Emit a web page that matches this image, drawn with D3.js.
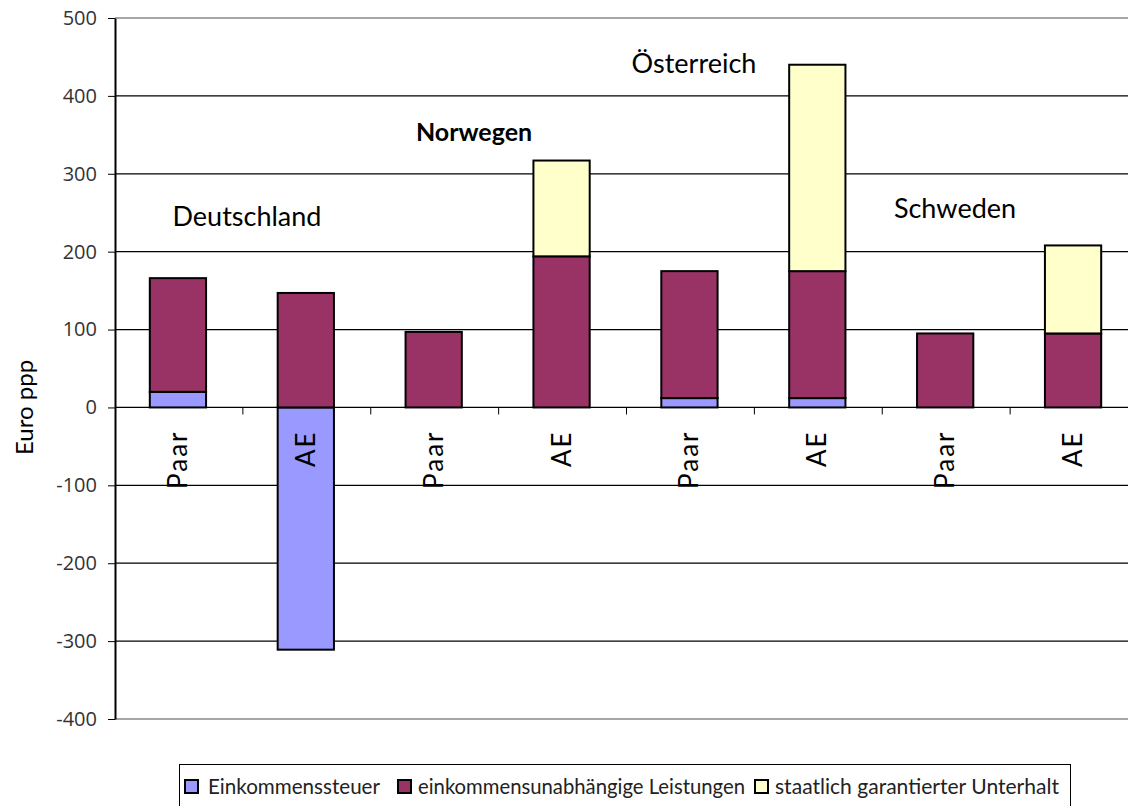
<!DOCTYPE html>
<html>
<head>
<meta charset="utf-8">
<script src="https://d3js.org/d3.v7.min.js"></script>
<style>
  body { margin: 0; background: #fff; }
  svg { font-family: Lato, "Open Sans", sans-serif; }
</style>
</head>
<body>
<div class="wrapper"></div>
<script>
// categories (country / household type)
var countries = ["Deutschland", "Norwegen", "Österreich", "Schweden"];
var types = ["Paar", "AE", "Paar", "AE", "Paar", "AE", "Paar", "AE"];
var seriesNames = ["Einkommenssteuer", "einkommensunabhängige Leistungen", "staatlich garantierter Unterhalt"];
// values in Euro ppp, one per bar
var steuer      = [20, -311, 0, 0, 12, 12, 0, 0];
var leistungen  = [146, 147, 97, 194, 163, 163, 95, 95];
var unterhalt   = [0, 0, 0, 123, 0, 265, 0, 113];
var yTicks = [-400, -300, -200, -100, 0, 100, 200, 300, 400, 500];

var colors = ["#9999ff", "#993366", "#ffffcc"];

var W = 1128, H = 806;
var margin = {top: 18, left: 115, bottom: 87};
var plotRight = 1138;

var svg = d3.select(".wrapper").append("svg")
  .attr("width", W).attr("height", H);

var y = d3.scaleLinear().domain([-400, 500]).range([H - margin.bottom, margin.top]);
var x = d3.scaleBand().domain(d3.range(types.length)).range([margin.left, plotRight]).paddingInner(0.56).paddingOuter(0.28);

// gridlines
svg.append("g").selectAll("line").data(yTicks).enter().append("line")
  .attr("x1", margin.left).attr("x2", W)
  .attr("y1", function(d){ return y(d); }).attr("y2", function(d){ return y(d); })
  .style("stroke", function(d){ return (d == 500 || d == -400) ? "#888" : "#000"; })
  .style("stroke-width", 1.3);

// y axis
var yAxis = svg.append("g").attr("transform", "translate(" + margin.left + ",0)")
  .call(d3.axisLeft(y).tickValues(yTicks).tickFormat(function(d){ return String(d); })
    .tickSize(7).tickSizeOuter(0).tickPadding(11));
yAxis.select(".domain").style("stroke", "#000").style("stroke-width", 2);
yAxis.selectAll(".tick line").style("stroke", "#000");
yAxis.selectAll("text").style("font-size", "20px").style("fill", "#333").style("font-family", "'Open Sans', sans-serif");

// stacked values: positive parts stack up from 0, negative go down
var stacks = types.map(function(t, i) {
  var segs = [];
  var pos = 0, neg = 0;
  [steuer[i], leistungen[i], unterhalt[i]].forEach(function(v, k) {
    if (v == 0) return;
    if (v > 0) { segs.push({k: k, y0: pos, y1: pos + v, i: i}); pos += v; }
    else { segs.push({k: k, y0: neg + v, y1: neg, i: i}); neg += v; }
  });
  return segs;
});

svg.append("g").selectAll("rect").data(d3.merge(stacks)).enter().append("rect")
  .attr("x", function(d){ return x(d.i) - 1; })
  .attr("width", x.bandwidth())
  .attr("y", function(d){ return y(d.y1); })
  .attr("height", function(d){ return y(d.y0) - y(d.y1); })
  .style("fill", function(d){ return colors[d.k]; })
  .style("stroke", "#000").style("stroke-width", 2);

// category axis ticks along zero line
var step = x.step();
svg.append("g").selectAll("line").data(d3.range(1, types.length)).enter().append("line")
  .attr("x1", function(d){ return margin.left + d * step; })
  .attr("x2", function(d){ return margin.left + d * step; })
  .attr("y1", y(0)).attr("y2", y(0) + 7)
  .style("stroke", "#000");

// category labels, rotated
svg.append("g").selectAll("text").data(types).enter().append("text")
  .attr("transform", function(d, i){ return "translate(" + (x(i) + x.bandwidth()/2 + 8) + "," + (y(0) + 23) + ") rotate(-90)"; })
  .style("text-anchor", "end")
  .style("font-size", "26px")
  .style("letter-spacing", "2px")
  .text(function(d){ return d; });

// country labels
var countryPos = [[247, 226, "normal", 27], [474, 141, "bold", 25], [694, 73, "normal", 27], [955, 218, "normal", 27]];
svg.append("g").selectAll("text").data(countries).enter().append("text")
  .attr("x", function(d, i){ return countryPos[i][0]; })
  .attr("y", function(d, i){ return countryPos[i][1]; })
  .style("text-anchor", "middle")
  .style("font-size", function(d, i){ return countryPos[i][3] + "px"; })
  .style("font-weight", function(d, i){ return countryPos[i][2]; })
  .text(function(d){ return d; });

// y axis title
svg.append("text")
  .attr("transform", "translate(33," + y(0) + ") rotate(-90)")
  .style("text-anchor", "middle")
  .style("font-size", "24px")
  .text("Euro ppp");

// legend
var legend = svg.append("g");
legend.append("rect").attr("x", 179.5).attr("y", 764.5).attr("width", 891).attr("height", 42)
  .style("fill", "#fff").style("stroke", "#000").style("stroke-width", 1);
var legendX = [185, 398, 755];
var legendW = [172, 327, 284];
var items = legend.selectAll("g.item").data(seriesNames).enter().append("g")
  .attr("transform", function(d, i){ return "translate(" + legendX[i] + ",780)"; });
items.append("rect").attr("width", 13).attr("height", 13)
  .style("fill", function(d, i){ return colors[i]; })
  .style("stroke", "#000").style("stroke-width", 2);
items.append("text").attr("x", function(d, i){ return i == 0 ? 23 : 20; }).attr("y", 14)
  .attr("textLength", function(d, i){ return legendW[i]; })
  .attr("lengthAdjust", "spacingAndGlyphs")
  .style("font-size", "20.5px").style("fill", "#222")
  .text(function(d){ return d; });
</script>
</body>
</html>
